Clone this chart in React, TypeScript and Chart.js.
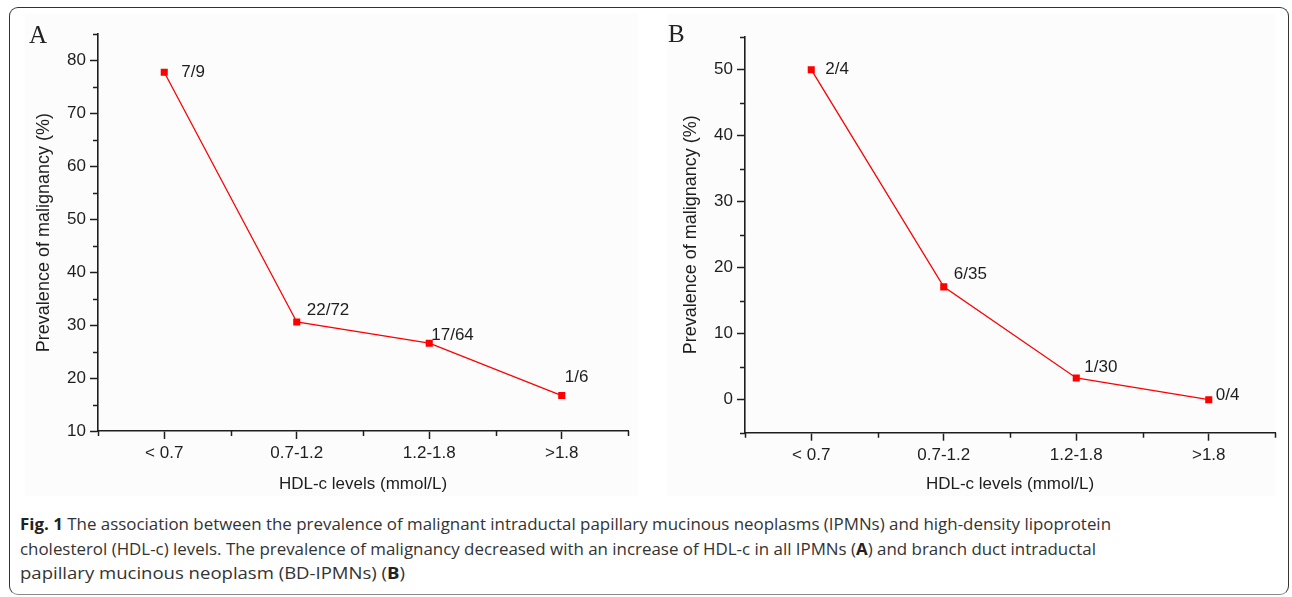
import React, { useEffect, useLayoutEffect, useRef } from "react";
import { Chart, registerables } from "chart.js";
Chart.register(...registerables);

// ---------- data ----------
const categories = ["< 0.7", "0.7-1.2", "1.2-1.8", ">1.8"];

const valuesA = [77.8, 30.6, 26.6, 16.7];
const pointLabelsA = ["7/9", "22/72", "17/64", "1/6"];
const yTicksA = [10, 20, 30, 40, 50, 60, 70, 80];
const yMinorTicksA = [15, 25, 35, 45, 55, 65, 75, 85];
const yMinA = 10;
const yMaxA = 85;

const valuesB = [50, 17.1, 3.3, 0];
const pointLabelsB = ["2/4", "6/35", "1/30", "0/4"];
const yTicksB = [0, 10, 20, 30, 40, 50];
const yMinorTicksB = [-5, 5, 15, 25, 35, 45, 55];
const yMinB = -5;
const yMaxB = 55;

const xTitle = "HDL-c levels (mmol/L)";
const yTitle = "Prevalence of malignancy (%)";

const captionLines: { text: string; bold?: boolean }[][] = [
  [
    { text: "Fig. 1", bold: true },
    { text: " The association between the prevalence of malignant intraductal papillary mucinous neoplasms (IPMNs) and high-density lipoprotein" },
  ],
  [
    { text: "cholesterol (HDL-c) levels. The prevalence of malignancy decreased with an increase of HDL-c in all IPMNs (" },
    { text: "A", bold: true },
    { text: ") and branch duct intraductal" },
  ],
  [
    { text: "papillary mucinous neoplasm (BD-IPMNs) (" },
    { text: "B", bold: true },
    { text: ")" },
  ],
];

// ---------- styles ----------
const AXIS_COLOR = "#1e1e1e";
const TEXT_COLOR = "#1e1e1e";
const RED = "#ff0000";
const FONT = '"Liberation Sans", Arial, sans-serif';
const labelOffsetsA = [[17, 0], [10, -12], [2, -8], [3, -18]];
const labelOffsetsB = [[14, 0], [10, -13], [8, -11], [7, -4]];

const decorPlugin = {
  id: "decor",
  afterDraw(chart: any, _args: any, opts: any) {
    const { ctx, chartArea } = chart;
    const x = chart.scales.x;
    const y = chart.scales.y;
    ctx.save();
    ctx.strokeStyle = AXIS_COLOR;
    ctx.lineWidth = 1.5;
    ctx.beginPath();
    (opts.yMinor || []).forEach((v: number) => {
      const py = Math.round(y.getPixelForValue(v)) + 0.5;
      ctx.moveTo(chartArea.left - 5, py);
      ctx.lineTo(chartArea.left, py);
    });
    const n = chart.data.labels.length;
    for (let i = 0; i <= n; i++) {
      const px = Math.round(x.getPixelForValue(i - 0.5)) + 0.5;
      ctx.moveTo(px, chartArea.bottom);
      ctx.lineTo(px, chartArea.bottom + 5);
    }
    ctx.stroke();

    const meta = chart.getDatasetMeta(0);
    ctx.font = `17px ${FONT}`;
    ctx.fillStyle = TEXT_COLOR;
    ctx.textAlign = "left";
    ctx.textBaseline = "middle";
    meta.data.forEach((pt: any, i: number) => {
      const off = opts.offsets[i] || [0, 0];
      ctx.fillText(opts.labels[i], pt.x + off[0], pt.y + off[1]);
    });
    ctx.restore();
  },
};

type PanelProps = {
  values: number[];
  labels: string[];
  offsets: number[][];
  yTicks: number[];
  yMinor: number[];
  yMin: number;
  yMax: number;
  padTop: number;
  xHeight: number;
};

function Panel(p: PanelProps) {
  const ref = useRef<HTMLCanvasElement | null>(null);
  useEffect(() => {
    if (!ref.current) return;
    const chart = new Chart(ref.current, {
      type: "line",
      data: {
        labels: categories,
        datasets: [
          {
            data: p.values,
            borderColor: RED,
            backgroundColor: RED,
            borderWidth: 1.3,
            pointStyle: "rect",
            pointRadius: 5,
            pointBorderWidth: 0,
            pointBackgroundColor: RED,
            tension: 0,
          },
        ],
      },
      options: {
        animation: false,
        responsive: false,
        devicePixelRatio: 1,
        layout: { padding: { top: p.padTop, right: 12, left: 0, bottom: 0 } },
        plugins: {
          legend: { display: false },
          tooltip: { enabled: false },
          decor: { labels: p.labels, offsets: p.offsets, yMinor: p.yMinor },
        } as any,
        scales: {
          x: {
            type: "category",
            offset: true,
            grid: {
              display: true,
              drawOnChartArea: false,
              drawTicks: true,
              tickLength: 8,
              tickWidth: 1.5,
              tickColor: AXIS_COLOR,
              offset: false,
            },
            border: { display: true, color: AXIS_COLOR, width: 1.6 },
            ticks: {
              color: TEXT_COLOR,
              font: { family: FONT, size: 17 },
              padding: 4,
              maxRotation: 0,
              autoSkip: false,
            },
            title: {
              display: true,
              text: xTitle,
              color: TEXT_COLOR,
              font: { family: FONT, size: 17 },
              padding: { top: 0, bottom: 1 },
            },
            afterFit: (s: any) => {
              s.height = p.xHeight;
            },
          },
          y: {
            type: "linear",
            min: p.yMin,
            max: p.yMax,
            afterBuildTicks: (s: any) => {
              s.ticks = p.yTicks.map((v) => ({ value: v }));
            },
            grid: {
              display: true,
              drawOnChartArea: false,
              drawTicks: true,
              tickLength: 8,
              tickWidth: 1.5,
              tickColor: AXIS_COLOR,
            },
            border: { display: true, color: AXIS_COLOR, width: 1.6 },
            ticks: {
              color: TEXT_COLOR,
              font: { family: FONT, size: 17 },
              padding: 4,
            },
            title: {
              display: true,
              text: yTitle,
              color: TEXT_COLOR,
              font: { family: FONT, size: 18 },
              padding: { top: 5, bottom: 0 },
            },
            afterFit: (s: any) => {
              s.width = 70;
            },
          },
        },
      },
      plugins: [decorPlugin],
    } as any);
    return () => chart.destroy();
  }, []);
  return <canvas ref={ref} width={612} height={476} style={{ display: "block" }} />;
}

function CaptionLine({ parts, top, target }: { parts: { text: string; bold?: boolean }[]; top: number; target: number }) {
  const ref = useRef<HTMLDivElement | null>(null);
  useLayoutEffect(() => {
    const el = ref.current;
    if (!el) return;
    el.style.transform = "none";
    const w = el.getBoundingClientRect().width;
    if (w > 0) el.style.transform = `scaleX(${target / w})`;
  }, []);
  return (
    <div
      ref={ref}
      style={{
        position: "absolute",
        left: 20,
        top,
        display: "inline-block",
        whiteSpace: "nowrap",
        transformOrigin: "0 0",
        font: '16px "Open Sans", "Noto Sans", sans-serif',
        lineHeight: "20px",
        color: "#333",
      }}
    >
      {parts.map((pt, i) =>
        pt.bold ? (
          <b key={i} style={{ fontWeight: 700, color: "#222" }}>{pt.text}</b>
        ) : (
          <span key={i}>{pt.text}</span>
        )
      )}
    </div>
  );
}

export default function App() {
  return (
    <div style={{ position: "absolute", left: 0, top: 0, width: 1292, height: 597, background: "#fff", overflow: "hidden" }}>
      <div
        style={{
          position: "absolute",
          left: 9,
          top: 7,
          width: 1278,
          height: 586,
          border: "1.5px solid #333",
          borderBottomColor: "#8a8a8a",
          borderRadius: 9,
        }}
      />
      <div style={{ position: "absolute", left: 25, top: 14, width: 613, height: 482, background: "#fcfcfc" }} />
      <div style={{ position: "absolute", left: 667, top: 14, width: 608, height: 482, background: "#fcfcfc" }} />

      <div style={{ position: "absolute", left: 28, top: 20 }}>
        <Panel
          values={valuesA}
          labels={pointLabelsA}
          offsets={labelOffsetsA}
          yTicks={yTicksA}
          yMinor={yMinorTicksA}
          yMin={yMinA}
          yMax={yMaxA}
          padTop={14}
          xHeight={65}
        />
      </div>
      <div style={{ position: "absolute", left: 675, top: 20 }}>
        <Panel
          values={valuesB}
          labels={pointLabelsB}
          offsets={labelOffsetsB}
          yTicks={yTicksB}
          yMinor={yMinorTicksB}
          yMin={yMinB}
          yMax={yMaxB}
          padTop={16.7}
          xHeight={63.3}
        />
      </div>

      <div style={{ position: "absolute", left: 29, top: 22, font: '25px "Liberation Serif", "Times New Roman", serif', lineHeight: "25px", color: "#222" }}>A</div>
      <div style={{ position: "absolute", left: 668, top: 21, font: '25px "Liberation Serif", "Times New Roman", serif', lineHeight: "25px", color: "#222" }}>B</div>

      <CaptionLine parts={captionLines[0]} top={514} target={1091} />
      <CaptionLine parts={captionLines[1]} top={539} target={1076} />
      <CaptionLine parts={captionLines[2]} top={563} target={385} />
    </div>
  );
}
